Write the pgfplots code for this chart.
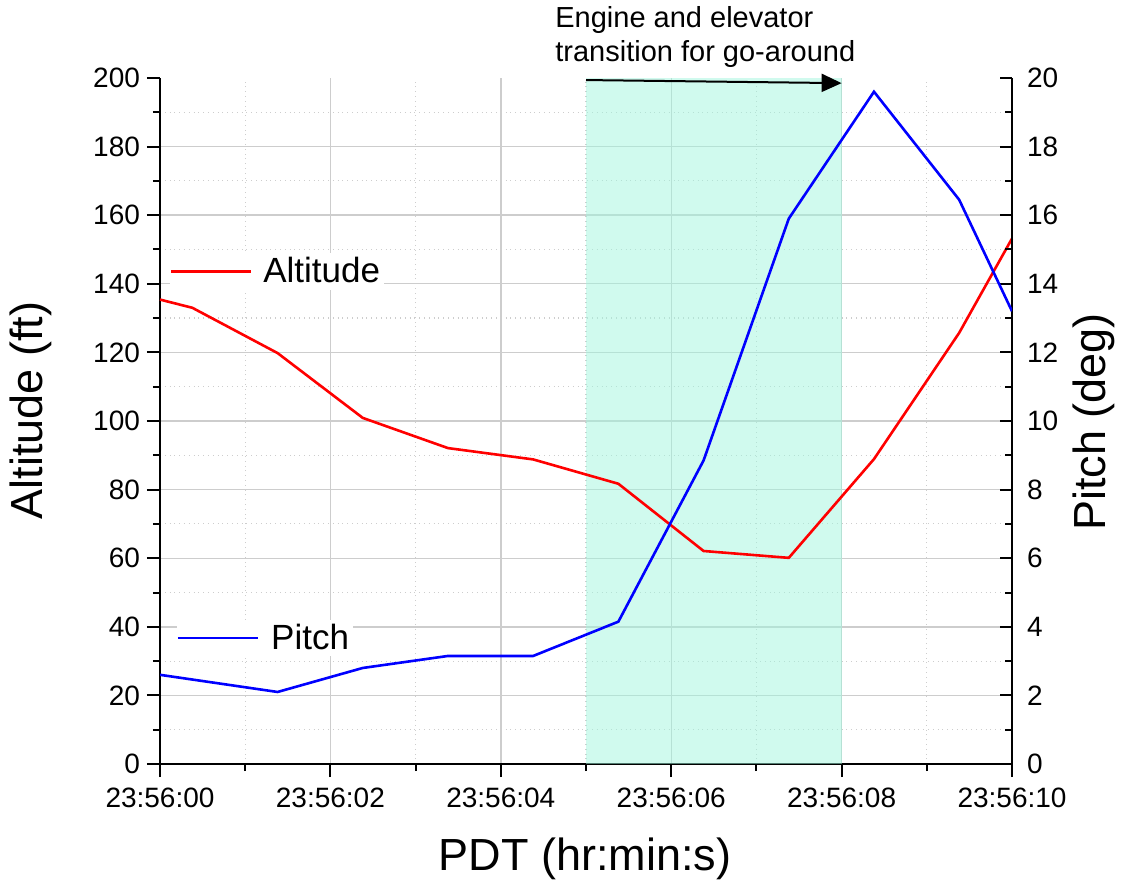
\documentclass[border=0pt]{standalone}
\usepackage{fontspec}
\setmainfont{Liberation Sans}
\usepackage{pgfplots}
\pgfplotsset{compat=1.18}
\usetikzlibrary{arrows.meta}
\definecolor{shadecol}{RGB}{161,245,221}
\definecolor{gridc}{RGB}{205,205,205}
\begin{document}
\begin{tikzpicture}
\useasboundingbox (-80pt,-59.5pt) rectangle (481pt,382pt);
\begin{axis}[
  scale only axis, width=426pt, height=343pt,
  xmin=0, xmax=10, ymin=0, ymax=200,
  axis x line*=bottom, axis y line*=left,
  axis line style={line width=1.2pt, -},
  tick align=outside,
  major tick length=6.5pt, minor tick length=3.5pt,
  every tick/.style={black, line width=1pt},
  xtick={0,2,...,10},
  xticklabels={23:56:00,23:56:02,23:56:04,23:56:06,23:56:08,23:56:10},
  minor xtick={1,3,...,9},
  ytick={0,20,...,180}, extra y ticks={200}, extra y tick style={grid=none},
  minor ytick={10,30,...,190},
  xmajorgrids, ymajorgrids, xminorgrids, yminorgrids,
  major grid style={gridc, line width=0.7pt},
  minor grid style={gridc, dotted, line width=0.6pt},
  tick label style={font=\fontsize{14}{16}\selectfont},
  xticklabel style={yshift=-2pt},
  /pgf/number format/assume math mode=true,
  clip=false,
  xlabel={PDT (hr:min:s)},
  xlabel style={at={(axis description cs:0.499,-0.1385)}, anchor=center, font=\fontsize{22.5}{27}\selectfont},
  ylabel={Altitude (ft)},
  ylabel style={at={(axis description cs:-0.1514,0.515)}, anchor=center, font=\fontsize{22.5}{27}\selectfont},
  legend style={at={(axis cs:0.11,143.6)}, anchor=west, draw=none, fill=white, inner sep=0pt,
    font=\fontsize{17.5}{21}\selectfont, nodes={inner sep=2pt},
    /tikz/every odd column/.append style={column sep=3.5pt}},
  legend cell align=left,
  legend image code/.code={\draw[#1] (0pt,0pt) -- (40pt,0pt);},
]
\fill[shadecol, fill opacity=0.5] (axis cs:5,0) rectangle (axis cs:8,200);
\addplot[red, line width=1.3pt] coordinates {
  (0,135.4) (0.38,133) (1.38,119.8) (2.38,100.9) (3.38,92.1) (4.38,88.8)
  (5.38,81.7) (6.38,62.1) (7.38,60.1) (8.38,88.9) (9.38,125.7) (10,153.2)
};
\addlegendentry{Altitude}
\draw[line width=1pt, -{Triangle[length=10pt,width=9pt]}] (axis cs:5,199.4) -- (axis cs:8,198.5);
\node[anchor=base west, inner sep=0pt, font=\fontsize{14.5}{17}\selectfont] at (axis cs:4.636,214.6) {Engine and elevator};
\node[anchor=base west, inner sep=0pt, font=\fontsize{14.5}{17}\selectfont] at (axis cs:4.636,204.7) {transition for go-around};
\end{axis}
\begin{axis}[
  scale only axis, width=426pt, height=343pt,
  xmin=0, xmax=10, ymin=0, ymax=20,
  axis y line*=right, axis x line=none,
  axis line style={line width=1.2pt, -},
  tick align=inside,
  major tick length=6pt, minor tick length=3.5pt,
  every tick/.style={black, line width=1pt},
  ytick={0,2,...,20}, minor ytick={1,3,...,19},
  yticklabel style={font=\fontsize{14}{16}\selectfont, xshift=4pt},
  /pgf/number format/assume math mode=true,
  ylabel={Pitch (deg)},
  ylabel style={at={(axis description cs:1.0962,0.4985)}, anchor=center, font=\fontsize{22.5}{27}\selectfont},
  legend style={at={(axis cs:0.19,3.673)}, anchor=west, draw=none, fill=white, inner sep=0pt,
    font=\fontsize{17.5}{21}\selectfont, nodes={inner sep=2pt},
    /tikz/every odd column/.append style={column sep=4pt}},
  legend cell align=left,
  legend image code/.code={\draw[#1] (0pt,0pt) -- (40pt,0pt);},
]
\addplot[blue, line width=1.3pt] coordinates {
  (0,2.6) (1.38,2.1) (2.38,2.8) (3.38,3.15) (4.38,3.15) (5.38,4.15)
  (6.38,8.85) (7.38,15.9) (8.38,19.6) (9.38,16.45) (10,13.2)
};
\addlegendentry{Pitch}
\end{axis}
\end{tikzpicture}
\end{document}
